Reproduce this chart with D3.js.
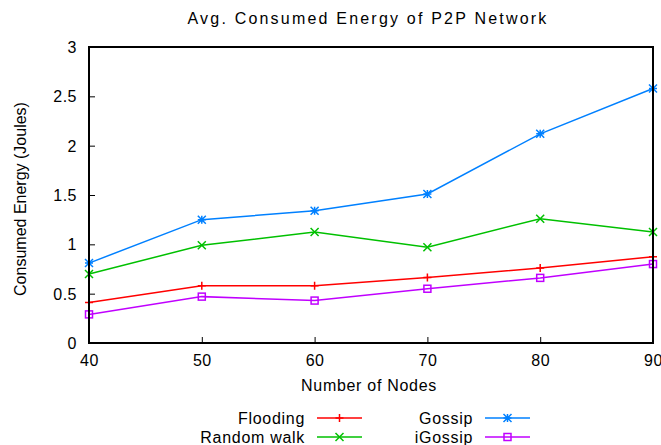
<!DOCTYPE html>
<html>
<head>
<meta charset="utf-8">
<script src="https://cdn.jsdelivr.net/npm/d3@7"></script>
<style>
  body { margin: 0; background: #fff; }
  text { font-family: "Liberation Sans", Arial, sans-serif; fill: #000; }
</style>
</head>
<body>
<div id="wrapper"></div>
<script>
// data
const nodes = [40, 50, 60, 70, 80, 90]
const flooding = [0.41, 0.58, 0.58, 0.665, 0.76, 0.875]
const randomWalk = [0.70, 0.99, 1.125, 0.97, 1.26, 1.125]
const gossip = [0.81, 1.25, 1.34, 1.51, 2.12, 2.58]
const iGossip = [0.29, 0.47, 0.43, 0.55, 0.66, 0.80]
const yTicks = [0, 0.5, 1, 1.5, 2, 2.5, 3]
const seriesNames = ["Flooding", "Random walk", "Gossip", "iGossip"]

const series = [
  { name: seriesNames[0], values: flooding, color: "#ff0000", marker: "plus" },
  { name: seriesNames[1], values: randomWalk, color: "#00c000", marker: "cross" },
  { name: seriesNames[2], values: gossip, color: "#0080ff", marker: "star" },
  { name: seriesNames[3], values: iGossip, color: "#c000ff", marker: "square" },
]

const dimensions = {
  width: 661,
  height: 445,
  margin: { top: 47, right: 8, bottom: 102, left: 89 },
}
dimensions.boundedWidth = dimensions.width - dimensions.margin.left - dimensions.margin.right
dimensions.boundedHeight = dimensions.height - dimensions.margin.top - dimensions.margin.bottom

const svg = d3.select("#wrapper")
  .append("svg")
    .attr("width", dimensions.width)
    .attr("height", dimensions.height)

const bounds = svg.append("g")
    .attr("transform", `translate(${dimensions.margin.left},${dimensions.margin.top})`)

// scales
const xScale = d3.scaleLinear()
  .domain([40, 90])
  .range([0, dimensions.boundedWidth])

const yScale = d3.scaleLinear()
  .domain([0, 3])
  .range([dimensions.boundedHeight, 0])

// axes (gnuplot style: inward ticks)
const xAxis = bounds.append("g")
    .attr("transform", `translate(0,${dimensions.boundedHeight})`)
    .call(d3.axisBottom(xScale).tickValues(nodes).tickSize(-6).tickPadding(12))
const yAxis = bounds.append("g")
    .call(d3.axisLeft(yScale).tickValues(yTicks).tickSize(-6).tickPadding(12).tickFormat(d3.format("")))

;[xAxis, yAxis].forEach(ax => {
  ax.select(".domain").remove()
  ax.selectAll("line").attr("stroke", "#000").attr("stroke-width", 1)
  ax.selectAll("text")
    .style("font-family", "'Liberation Sans', Arial, sans-serif")
    .style("font-size", "16px")
    .style("letter-spacing", "0.5px")
    .attr("fill", "#000")
})
xAxis.selectAll("text").attr("dy", "0.71em")
yAxis.selectAll("text").attr("dy", "0.35em")

// lines and markers
const lineGen = d3.line()
  .x((d, i) => xScale(nodes[i]))
  .y(d => yScale(d))

function drawMarker(g, type, color) {
  const s = 4
  if (type === "plus") {
    g.append("path").attr("d", `M${-s},0H${s}M0,${-s}V${s}`)
  } else if (type === "cross") {
    g.append("path").attr("d", `M${-s},${-s}L${s},${s}M${-s},${s}L${s},${-s}`)
  } else if (type === "star") {
    g.append("path").attr("d", `M${-s},0H${s}M0,${-s}V${s}M${-s},${-s}L${s},${s}M${-s},${s}L${s},${-s}`)
  } else if (type === "square") {
    g.append("rect").attr("x", -3.5).attr("y", -3.5).attr("width", 7).attr("height", 7)
  }
  g.selectAll("path, rect").attr("stroke", color).attr("stroke-width", 1.5).attr("fill", "none")
}

series.forEach(s => {
  bounds.append("path")
      .datum(s.values)
      .attr("d", lineGen)
      .attr("fill", "none")
      .attr("stroke", s.color)
      .attr("stroke-width", 1.5)
  s.values.forEach((v, i) => {
    const g = bounds.append("g")
        .attr("transform", `translate(${xScale(nodes[i])},${yScale(v)})`)
    drawMarker(g, s.marker, s.color)
  })
})

// frame
bounds.append("rect")
    .attr("width", dimensions.boundedWidth)
    .attr("height", dimensions.boundedHeight)
    .attr("fill", "none")
    .attr("stroke", "#000")
    .attr("stroke-width", 2)

// title and labels
svg.append("text")
    .attr("x", 368)
    .attr("y", 24)
    .attr("text-anchor", "middle")
    .style("font-size", "16px")
    .style("letter-spacing", "2.2px")
    .text("Avg. Consumed Energy of P2P Network")

svg.append("text")
    .attr("x", 369)
    .attr("y", 391)
    .attr("text-anchor", "middle")
    .style("font-size", "16px")
    .style("letter-spacing", "0.7px")
    .text("Number of Nodes")

svg.append("text")
    .attr("transform", `translate(26,199) rotate(-90)`)
    .attr("text-anchor", "middle")
    .style("font-size", "16px")
    .text("Consumed Energy (Joules)")

// legend
const legendPos = [
  { textX: 305, lineX: 317, y: 418 },
  { textX: 305, lineX: 317, y: 437 },
  { textX: 473, lineX: 485, y: 418 },
  { textX: 473, lineX: 485, y: 437 },
]
series.forEach((s, i) => {
  const p = legendPos[i]
  svg.append("text")
      .attr("x", p.textX)
      .attr("y", p.y)
      .attr("dy", "0.35em")
      .attr("text-anchor", "end")
      .style("font-size", "16px")
      .style("letter-spacing", "0.7px")
      .text(s.name)
  svg.append("line")
      .attr("x1", p.lineX)
      .attr("x2", p.lineX + 45)
      .attr("y1", p.y)
      .attr("y2", p.y)
      .attr("stroke", s.color)
      .attr("stroke-width", 1.5)
  const g = svg.append("g")
      .attr("transform", `translate(${p.lineX + 22.5},${p.y})`)
  drawMarker(g, s.marker, s.color)
})
</script>
</body>
</html>
